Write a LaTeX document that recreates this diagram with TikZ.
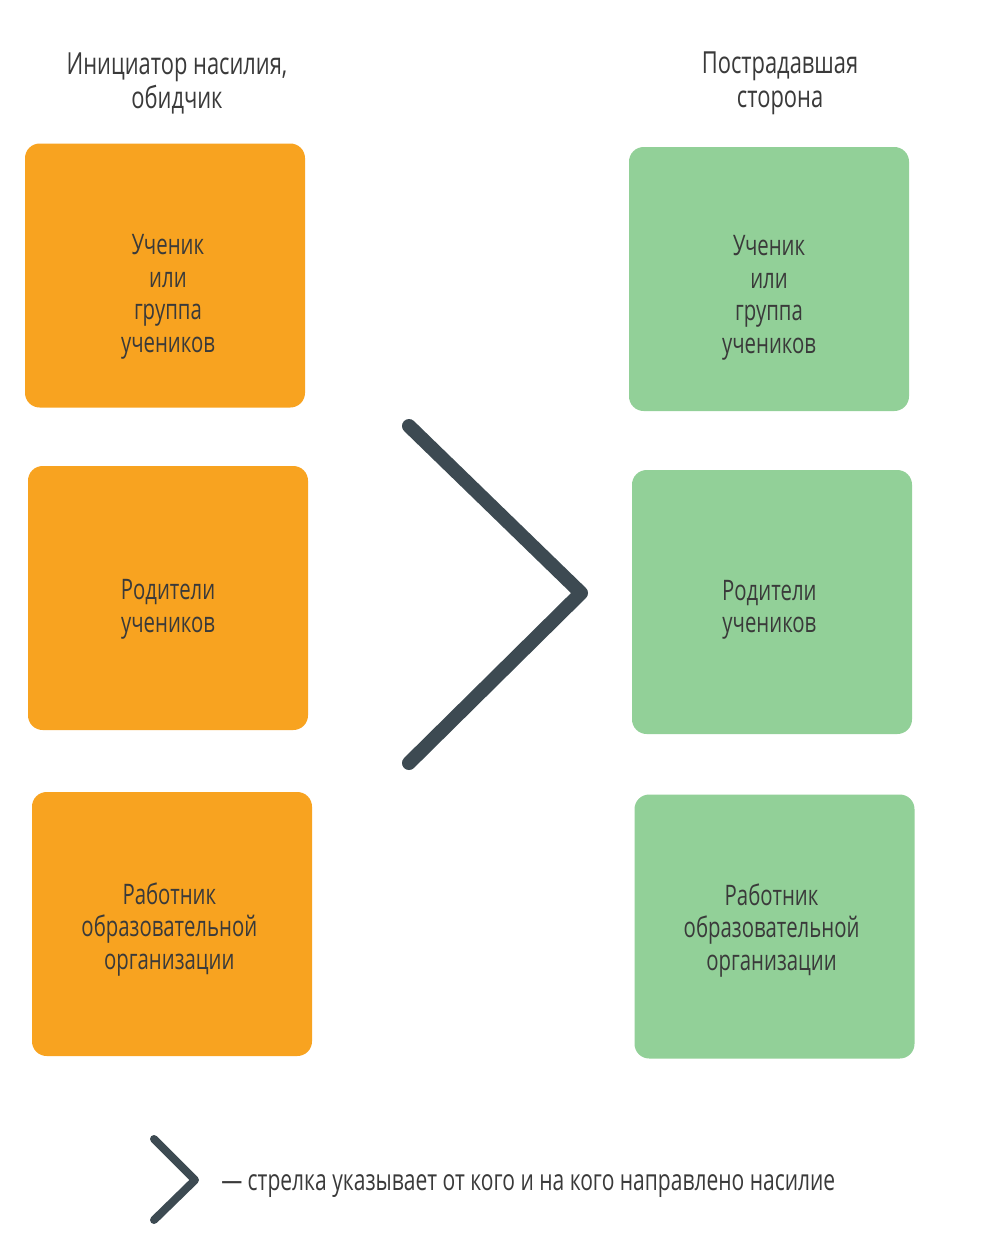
\documentclass[tikz,border=0pt]{standalone}
\usepackage{fontspec}
\setmainfont[FakeStretch=0.72]{Open Sans}
\definecolor{orangebox}{HTML}{F8A320}
\definecolor{greenbox}{HTML}{92D098}
\definecolor{txt}{HTML}{3A3A3A}
\definecolor{chev}{HTML}{3D4A52}
\tikzset{
  box/.style={rounded corners=11pt, minimum width=210pt, minimum height=198pt, inner sep=0pt},
  obox/.style={box, fill=orangebox},
  gbox/.style={box, fill=greenbox},
  boxtext/.style={align=center, text=txt, inner sep=0pt, font=\fontsize{21.2}{24.4}\selectfont},
  title/.style={align=center, text=txt, font=\fontsize{22.8}{25.5}\selectfont},
  chevline/.style={draw=chev, line width=10.5pt, line cap=round, line join=round},
  chevsmall/.style={draw=chev, line width=6pt, line cap=round, line join=round}
}
\begin{document}
\begin{tikzpicture}[x=0.75pt,y=-0.75pt]
\fill[white] (0,0) rectangle (985,1240);
\useasboundingbox (0,0) rectangle (985,1240);

\node[title] (tl) at (177,83) {Инициатор насилия,\\обидчик};
\node[title] (tr) at (780,83) {Пострадавшая\\сторона};

\node[obox] (l1) at (165,275.5) {};
\node[obox] (l2) at (168,598) {};
\node[obox] (l3) at (172,924) {};
\node[gbox] (r1) at (769,279) {};
\node[gbox] (r2) at (772,602) {};
\node[gbox] (r3) at (774.5,926.5) {};

\node[boxtext] (tl1) at ([xshift=2.2pt,yshift=-16pt]l1.center) {Ученик\\или\\группа\\учеников};
\node[boxtext] (tl2) at ([yshift=-8.5pt]l2.center) {Родители\\учеников};
\node[boxtext] (tl3) at ([xshift=-2pt,yshift=-4pt]l3.center) {Работник\\образовательной\\организации};
\node[boxtext] (tr1) at ([yshift=-14pt]r1.center) {Ученик\\или\\группа\\учеников};
\node[boxtext] (tr2) at ([xshift=-2pt,yshift=-6pt]r2.center) {Родители\\учеников};
\node[boxtext] (tr3) at ([xshift=-2.2pt,yshift=-3pt]r3.center) {Работник\\образовательной\\организации};

\coordinate (a1) at (409,426);
\coordinate (a2) at (581,593);
\coordinate (a3) at (409,763);
\draw[chevline] (a1) -- (a2) -- (a3);

\coordinate (b1) at (154,1139);
\coordinate (b2) at (195,1180);
\coordinate (b3) at (154,1220);
\draw[chevsmall] (b1) -- (b2) -- (b3);

\node[anchor=west, text=txt, font=\fontsize{21.9}{24}\selectfont, inner sep=0pt] (leg) at (221,1186) {— стрелка указывает от кого и на кого направлено насилие};
\end{tikzpicture}
\end{document}
